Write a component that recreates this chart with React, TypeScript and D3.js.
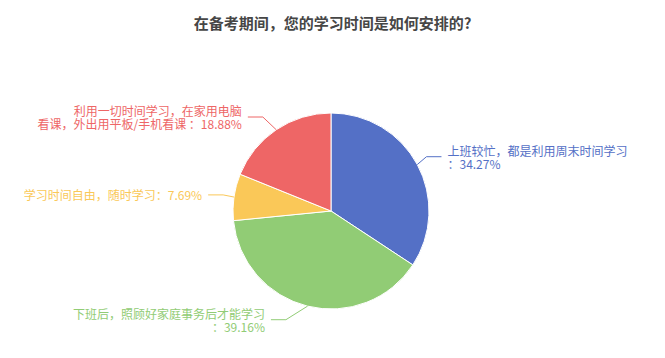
import React from "react";
import * as d3 from "d3";

const title = "在备考期间，您的学习时间是如何安排的?";
const categories = [
  ["上班较忙，都是利用周末时间学习", "：34.27%"],
  ["下班后，照顾好家庭事务后才能学习", "：39.16%"],
  ["学习时间自由，随时学习：7.69%"],
  ["利用一切时间学习，在家用电脑", "看课，外出用平板/手机看课 ：18.88%"],
];
const values = [34.27, 39.16, 7.69, 18.88];
const colors = ["#5470c6", "#91cc75", "#fac858", "#ee6666"];

const W = 665, H = 358;
const cx = 331, cy = 211, R = 98;
const len1 = 15, len2 = 15, gap = 6, lineH = 13;
// label-layout nudges of the turn point (style, like ECharts' overlap/turn-angle layout)
const turnShift = [[-4, -0.7], [-18, -1], [4, 0], [-5, -0.3]];
const font = "'Noto Sans CJK SC', 'Noto Sans', sans-serif";

export default function App() {
  const pie = d3.pie<number>().sort(null).value((d) => d);
  const arcs = pie(values);
  const arcGen = d3.arc<d3.PieArcDatum<number>>().innerRadius(0).outerRadius(R);

  return (
    <svg width={W} height={H} style={{ position: "absolute", left: 0, top: 0, background: "#fff" }}>
      <text x={W / 2} y={22} textAnchor="middle" dominantBaseline="central"
        fontFamily={font} fontSize={15} fontWeight="bold" fill="#464646">{title}</text>
      <g transform={`translate(${cx},${cy})`}>
        {arcs.map((a, i) => (
          <path key={i} d={arcGen(a) || ""} fill={colors[i]} stroke="#fff" strokeWidth={1} />
        ))}
        {arcs.map((a, i) => {
          const mid = (a.startAngle + a.endAngle) / 2;
          const sx = Math.sin(mid), sy = -Math.cos(mid);
          const p0 = [sx * R, sy * R];
          const p1 = [sx * (R + len1) + turnShift[i][0], sy * (R + len1) + turnShift[i][1]];
          const dir = sx >= 0 ? 1 : -1;
          const p2 = [p1[0] + dir * len2, p1[1]];
          const tx = p2[0] + dir * gap;
          const lines = categories[i];
          const y0 = p2[1] - ((lines.length - 1) * lineH) / 2;
          return (
            <g key={"l" + i}>
              <polyline points={[p0, p1, p2].map((p) => p.join(",")).join(" ")}
                fill="none" stroke={colors[i]} strokeWidth={1} />
              <text fontFamily={font} fontSize={12} fill={colors[i]}
                textAnchor={dir > 0 ? "start" : "end"}>
                {lines.map((t, j) => (
                  <tspan key={j} x={tx} y={y0 + j * lineH} dominantBaseline="central">{t}</tspan>
                ))}
              </text>
            </g>
          );
        })}
      </g>
    </svg>
  );
}
